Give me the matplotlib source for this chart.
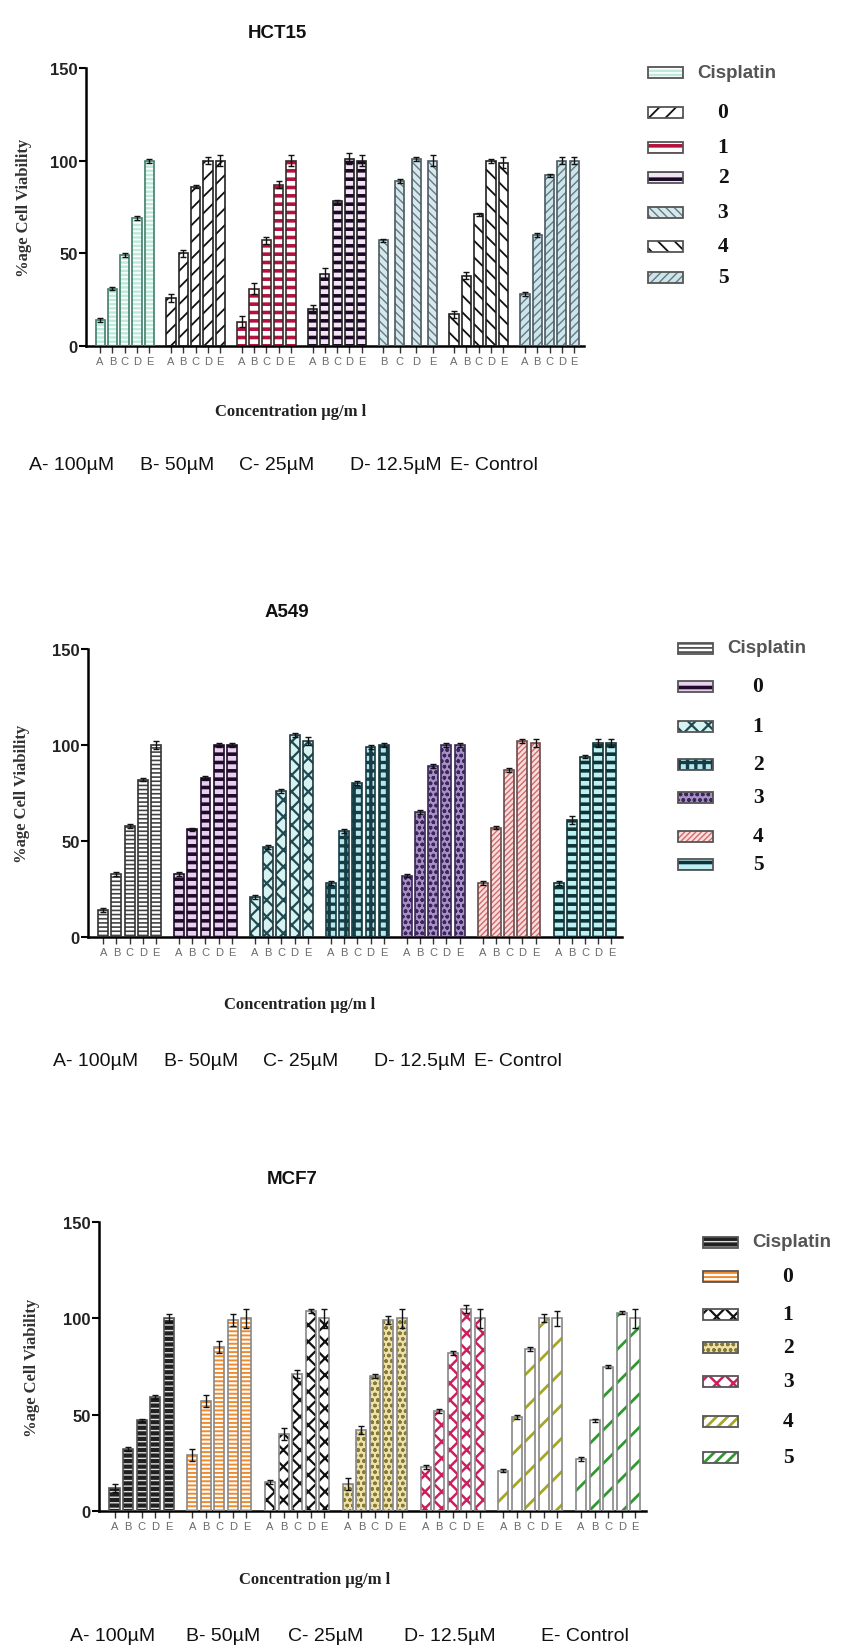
import numpy as np
import matplotlib
matplotlib.use("Agg")
import matplotlib.pyplot as plt
from matplotlib.patches import Rectangle

W, H = 844, 1649

# series names and x tick letters
series = ["Cisplatin", "0", "1", "2", "3", "4", "5"]
letters = ["A", "B", "C", "D", "E"]
foot_items = ["A- 100µM", "B- 50µM", "C- 25µM", "D- 12.5µM", "E- Control"]

# HCT15 (group "3" has no A bar)
hct15_vals = [[14, 31, 49, 69, 100], [26, 50, 86, 100, 100], [13, 31, 57, 87, 100],
              [20, 39, 78, 101, 100], [57, 89, 101, 100], [17, 38, 71, 100, 99],
              [28, 60, 92, 100, 100]]
hct15_err = [[1, 1, 1, 1, 1], [2, 2, 1, 2, 3], [3, 3, 2, 2, 3],
             [2, 3, 1, 3, 3], [1, 1, 1, 3], [2, 2, 1, 1, 3],
             [1, 1, 1, 2, 2]]
hct15_ticks = [letters, letters, letters, letters, ["B", "C", "D", "E"], letters, letters]

# A549
a549_vals = [[14, 33, 58, 82, 100], [33, 56, 83, 100, 100], [21, 47, 76, 105, 102],
             [28, 55, 80, 99, 100], [32, 65, 89, 100, 100], [28, 57, 87, 102, 101],
             [28, 61, 94, 101, 101]]
a549_err = [[1, 1, 1, 1, 2], [1, 1, 1, 1, 1], [1, 1, 1, 1, 2],
            [1, 1, 1, 1, 1], [1, 1, 1, 1, 1], [1, 1, 1, 1, 2],
            [1, 2, 1, 2, 2]]

# MCF7
mcf7_vals = [[12, 32, 47, 59, 100], [29, 57, 85, 99, 100], [15, 40, 71, 104, 100],
             [14, 42, 70, 99, 100], [23, 52, 82, 105, 100], [21, 49, 84, 100, 100],
             [27, 47, 75, 103, 100]]
mcf7_err = [[2, 1, 1, 1, 2], [3, 3, 3, 3, 5], [1, 3, 2, 1, 5],
            [3, 2, 1, 2, 5], [1, 1, 1, 2, 5], [1, 1, 1, 2, 4],
            [1, 1, 1, 1, 5]]

# styles: (face, hatch, hatch colour, hatch width, edge colour)
hct15_sty = [("#bfeadb", "----", "#ffffff", 1.2, "#3f7f6c"),
             ("#ffffff", "//", "#111111", 1.3, "#222222"),
             ("#ffffff", "--", "#b3123f", 2.6, "#3a2a2a"),
             ("#f1e4f3", "--", "#1c0826", 2.6, "#222222"),
             ("#d9e7ea", "\\\\\\\\", "#5d7d86", 1.0, "#4a5a60"),
             ("#ffffff", "\\\\", "#111111", 1.3, "#222222"),
             ("#cfe4ea", "////", "#5d7d86", 1.0, "#4a5a60")]
a549_sty = [("#ffffff", "----", "#444444", 1.2, "#333333"),
            ("#ead0f0", "--", "#1e0b2a", 2.6, "#1e0b2a"),
            ("#d8f2f2", "xx", "#1f4a52", 1.6, "#1f3a40"),
            ("#b5e6ee", "++", "#163c44", 2.4, "#163c44"),
            ("#a98fc8", "ooo", "#3a2856", 1.0, "#3a2856"),
            ("#f8dede", "//////", "#d26b6b", 1.0, "#6a4a4a"),
            ("#bdf0f4", "--", "#0f3436", 2.6, "#0f3436")]
mcf7_sty = [("#202020", "---", "#dcdcdc", 1.0, "#555555"),
            ("#ffffff", "----", "#f08a2a", 1.4, "#888888"),
            ("#ffffff", "xx", "#111111", 1.6, "#888888"),
            ("#ece2b0", "ooo", "#8a7a30", 1.0, "#888888"),
            ("#ffffff", "xx", "#cc1f5f", 1.8, "#888888"),
            ("#ffffff", "/", "#a6a626", 2.0, "#888888"),
            ("#ffffff", "/", "#2e9a2e", 2.0, "#888888")]

fig = plt.figure(figsize=(W / 100, H / 100), dpi=100)
ov = fig.add_axes([0, 0, 1, 1])
ov.set_xlim(0, W)
ov.set_ylim(H, 0)
ov.axis("off")

SANS = ["Liberation Sans", "DejaVu Sans"]
SERIF = ["Liberation Serif", "DejaVu Serif"]
PERIOD = 5.75


def hatch_bar(ax, xs, vals, width, face, hatch, hcol, hlw, ecol):
    with plt.rc_context({"hatch.linewidth": hlw}):
        bars = ax.bar(xs, vals, width=width, color=face, hatch=hatch,
                      edgecolor=hcol, linewidth=0, zorder=2)
        for b in bars:
            if hasattr(b, "set_hatch_linewidth"):
                b.set_hatch_linewidth(hlw)
    ax.bar(xs, vals, width=width, fill=False, edgecolor=ecol, linewidth=1.2, zorder=3)


def panel(x0, x1, ytop, ybot, vals, errs, ticks, styles, ylab_x):
    ax = fig.add_axes([x0 / W, 1 - ybot / H, (x1 - x0) / W, (ybot - ytop) / H])
    all_x, all_lab = [], []
    for g, v in enumerate(vals):
        if len(v) == 5:
            xs = g * PERIOD + np.arange(5)
        else:
            xs = g * PERIOD + np.linspace(0, 4, len(v))
        face, hatch, hcol, hlw, ecol = styles[g]
        hatch_bar(ax, xs, v, 0.75, face, hatch, hcol, hlw, ecol)
        ax.errorbar(xs, v, yerr=errs[g], fmt="none", ecolor="#111111",
                    elinewidth=1, capsize=2, capthick=1, zorder=4)
        all_x += list(xs)
        all_lab += ticks[g]
    ax.set_xlim(-1.15, 6 * PERIOD + 4 + 0.8)
    ax.set_ylim(0, 150)
    ax.set_yticks([0, 50, 100, 150])
    ax.set_xticks(all_x)
    ax.set_xticklabels(all_lab, fontsize=8, color="#6a6a6a", family=SANS)
    for t in ax.get_yticklabels():
        t.set_fontsize(12)
        t.set_fontweight("bold")
        t.set_family(SANS)
        t.set_color("#222222")
    ax.spines["top"].set_visible(False)
    ax.spines["right"].set_visible(False)
    ax.spines["left"].set_linewidth(1.8)
    ax.spines["bottom"].set_linewidth(1.8)
    ax.tick_params(axis="y", length=5, width=1.5, pad=1)
    ax.tick_params(axis="x", length=5, width=1, pad=2, color="#333333")
    ov.text(ylab_x, (ytop + ybot) / 2, "%age Cell Viability", rotation=90,
            fontsize=12, fontweight="bold", family=SERIF, color="#333333",
            ha="center", va="center")
    return ax


def legend(px, rows, styles, txt_x, num_x):
    for i, (name, y) in enumerate(zip(series, rows)):
        face, hatch, hcol, hlw, ecol = styles[i]
        if hatch == "/":
            hatch = "///"  # small swatch needs denser stripes
        with plt.rc_context({"hatch.linewidth": hlw}):
            r = Rectangle((px, y - 5.5), 35, 11, facecolor=face, hatch=hatch,
                          edgecolor=hcol, linewidth=0)
            if hasattr(r, "set_hatch_linewidth"):
                r.set_hatch_linewidth(hlw)
            ov.add_patch(r)
        ov.add_patch(Rectangle((px, y - 5.5), 35, 11, fill=False,
                               edgecolor="#555555", linewidth=1.3))
        if i == 0:
            ov.text(txt_x, y, name, fontsize=13.5, fontweight="bold", family=SANS,
                    color="#555555", va="center", ha="left")
        else:
            ov.text(num_x, y, name, fontsize=15.5, fontweight="bold", family=SERIF,
                    color="#111111", va="center", ha="center")


def captions(title, title_x, title_y, conc_x, conc_y, foot_xs, foot_y):
    ov.text(title_x, title_y, title, fontsize=13.5, fontweight="bold", family=SANS,
            ha="center", va="center", color="#111111")
    ov.text(conc_x, conc_y, "Concentration µg/m l", fontsize=12, fontweight="bold",
            family=SERIF, color="#222222", ha="center", va="center")
    for fx, item in zip(foot_xs, foot_items):
        ov.text(fx, foot_y, item, fontsize=14, family=SANS, color="#111111",
                ha="left", va="center")


# HCT15
panel(86, 584, 69, 347, hct15_vals, hct15_err, hct15_ticks, hct15_sty, 24)
legend(648, [73, 113, 148, 178, 213, 247, 278], hct15_sty, 697, 723)
captions("HCT15", 277, 33, 291, 412, [29, 140, 239, 350, 450], 466)

# A549
panel(88, 622, 650, 938, a549_vals, a549_err, [letters] * 7, a549_sty, 22)
legend(678, [649, 687, 727, 765, 798, 837, 865], a549_sty, 727, 758)
captions("A549", 287, 613, 300, 1005, [53, 164, 263, 374, 474], 1062)

# MCF7
panel(99, 646, 1223, 1512, mcf7_vals, mcf7_err, [letters] * 7, mcf7_sty, 32)
legend(703, [1243, 1277, 1315, 1348, 1382, 1422, 1458], mcf7_sty, 752, 788)
captions("MCF7", 292, 1180, 315, 1580, [70, 186, 288, 404, 541], 1637)

fig.savefig("out.png", dpi=100)
